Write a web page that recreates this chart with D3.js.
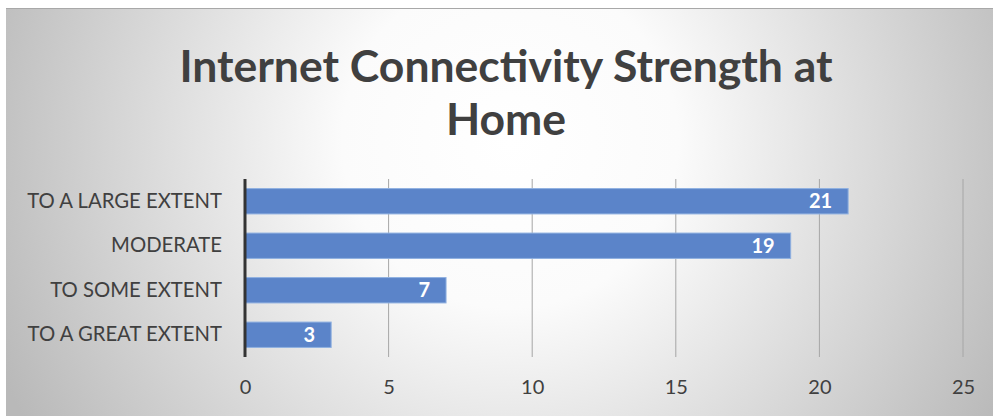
<!DOCTYPE html>
<html>
<head>
<meta charset="utf-8">
<script src="https://cdn.jsdelivr.net/npm/d3@7"></script>
<style>
  html, body { margin: 0; padding: 0; background: #fff; }
  svg { display: block; }
</style>
</head>
<body>
<svg id="chart" width="993" height="416"></svg>
<script>
const titleLines = ["Internet Connectivity Strength at", "Home"];
const categories = ["TO A LARGE EXTENT", "MODERATE", "TO SOME EXTENT", "TO A GREAT EXTENT"];
const values = [21, 19, 7, 3];
const tickValues = [0, 5, 10, 15, 20, 25];

const W = 993, H = 416;
const svg = d3.select("#chart");
const font = "Lato, 'Open Sans', sans-serif";

// Radial background of the chart area
const defs = svg.append("defs");
const grad = defs.append("radialGradient")
  .attr("id", "bg").attr("gradientUnits", "userSpaceOnUse")
  .attr("cx", 510).attr("cy", 140).attr("r", 560);
grad.append("stop").attr("offset", "0%").attr("stop-color", "#ffffff");
grad.append("stop").attr("offset", "30%").attr("stop-color", "#fbfbfb");
grad.append("stop").attr("offset", "100%").attr("stop-color", "#b9b9b9");

svg.append("rect").attr("x", 0).attr("y", 0).attr("width", W).attr("height", H).attr("fill", "#fff");
svg.append("rect").attr("x", 6).attr("y", 9).attr("width", W - 6).attr("height", H - 9).attr("fill", "url(#bg)");
svg.append("line").attr("x1", 6).attr("x2", W).attr("y1", 8.5).attr("y2", 8.5)
  .attr("stroke", "#a8a8a8").attr("stroke-width", 1);

const x = d3.scaleLinear().domain([0, 25]).range([245, 963]);
const y = d3.scaleBand().domain(categories).range([179, 357]).paddingInner(0.43).paddingOuter(0.215);

// Title
svg.append("g").selectAll("text").data(titleLines).join("text")
  .attr("x", 506).attr("y", (d, i) => 82 + i * 53)
  .attr("text-anchor", "middle")
  .attr("font-family", font).attr("font-weight", 700).attr("font-size", 44.5)
  .attr("fill", "#404040").text(d => d);

// Vertical gridlines
svg.append("g").selectAll("line").data(tickValues.filter(t => t > 0)).join("line")
  .attr("x1", d => x(d)).attr("x2", d => x(d))
  .attr("y1", 179).attr("y2", 357)
  .attr("stroke", "#a6a6a6").attr("stroke-width", 1);

// Bars
svg.append("g").selectAll("rect").data(values).join("rect")
  .attr("x", x(0)).attr("y", (d, i) => y(categories[i]))
  .attr("width", d => x(d) - x(0)).attr("height", y.bandwidth())
  .attr("fill", "#5b84c9").attr("stroke", "#8fb0e0").attr("stroke-width", 1);

// Value labels
svg.append("g").selectAll("text").data(values).join("text")
  .attr("x", d => x(d) - 16).attr("y", (d, i) => y(categories[i]) + y.bandwidth() / 2)
  .attr("dy", "0.36em").attr("text-anchor", "end")
  .attr("font-family", font).attr("font-weight", 700).attr("font-size", 20)
  .attr("fill", "#ffffff").text(d => d);

// Category axis
const yAxis = svg.append("g").attr("transform", `translate(${x(0)},0)`)
  .call(d3.axisLeft(y).tickSize(0).tickPadding(23));
yAxis.select(".domain").remove();
yAxis.selectAll("text").attr("font-family", font).attr("font-size", 20.3).attr("fill", "#404040");
svg.append("line").attr("x1", x(0)).attr("x2", x(0)).attr("y1", 179).attr("y2", 357)
  .attr("stroke", "#333333").attr("stroke-width", 3);

// Value axis labels
const xAxis = svg.append("g").attr("transform", "translate(0,357)")
  .call(d3.axisBottom(x).tickValues(tickValues).tickSize(0).tickPadding(23));
xAxis.select(".domain").remove();
xAxis.selectAll("text").attr("font-family", font).attr("font-size", 20).attr("fill", "#404040");
</script>
</body>
</html>
